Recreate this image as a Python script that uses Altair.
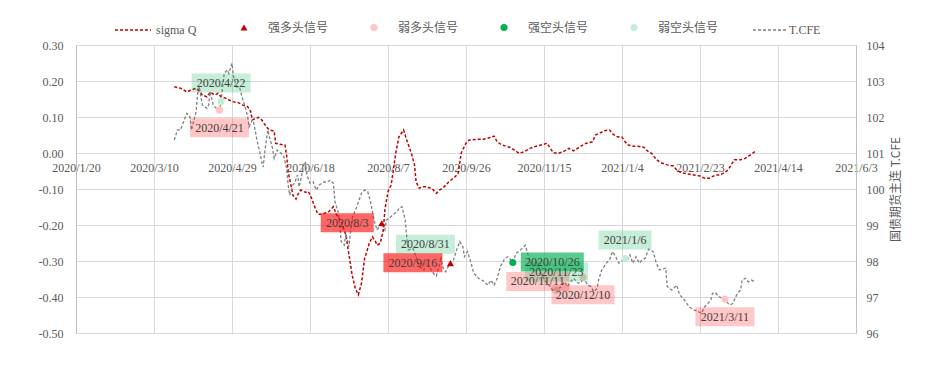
import altair as alt
import pandas as pd

# ---------------- data ----------------
sigma_dates = ["2020-03-23","2020-03-27","2020-03-31","2020-04-03","2020-04-06","2020-04-08","2020-04-10","2020-04-13","2020-04-15","2020-04-18",
               "2020-04-20","2020-04-22","2020-04-25","2020-04-29","2020-05-03","2020-05-06","2020-05-09","2020-05-11","2020-05-12","2020-05-14",
               "2020-05-16","2020-05-18","2020-05-21","2020-05-23","2020-05-26","2020-05-27","2020-05-30","2020-06-02","2020-06-03","2020-06-04",
               "2020-06-06","2020-06-07","2020-06-09","2020-06-10","2020-06-12","2020-06-15","2020-06-17","2020-06-19","2020-06-21","2020-06-23",
               "2020-06-26","2020-06-30","2020-07-03","2020-07-05","2020-07-08","2020-07-11","2020-07-13","2020-07-15","2020-07-17","2020-07-19",
               "2020-07-21","2020-07-23","2020-07-26","2020-07-28","2020-07-30","2020-07-31","2020-08-02","2020-08-04","2020-08-05","2020-08-07",
               "2020-08-09","2020-08-10","2020-08-12","2020-08-14","2020-08-17","2020-08-19","2020-08-22","2020-08-24","2020-08-25","2020-08-27",
               "2020-08-29","2020-08-31","2020-09-04","2020-09-07","2020-09-09","2020-09-12","2020-09-15","2020-09-19","2020-09-21","2020-09-23",
               "2020-09-26","2020-09-28","2020-10-03","2020-10-07","2020-10-10","2020-10-14","2020-10-16","2020-10-19","2020-10-24","2020-10-27",
               "2020-10-30","2020-11-02","2020-11-06","2020-11-10","2020-11-13","2020-11-17","2020-11-19","2020-11-21","2020-11-24","2020-11-27",
               "2020-12-01","2020-12-04","2020-12-08","2020-12-12","2020-12-16","2020-12-18","2020-12-21","2020-12-24","2020-12-27","2020-12-29",
               "2021-01-01","2021-01-04","2021-01-06","2021-01-08","2021-01-11","2021-01-14","2021-01-18","2021-01-21","2021-01-23","2021-01-26",
               "2021-01-29","2021-02-02","2021-02-06","2021-02-08","2021-02-11","2021-02-15","2021-02-19","2021-02-23","2021-02-26","2021-03-01",
               "2021-03-05","2021-03-08","2021-03-10","2021-03-13","2021-03-15","2021-03-17","2021-03-21","2021-03-24","2021-03-27","2021-03-31"]
sigma_vals = [0.184,0.180,0.170,0.175,0.180,0.172,0.161,0.156,0.169,0.161,
              0.166,0.156,0.152,0.143,0.140,0.133,0.129,0.115,0.092,0.096,
              0.099,0.092,0.073,0.064,0.061,0.027,0.024,0.022,-0.006,-0.052,
              -0.094,-0.117,-0.128,-0.117,-0.103,-0.109,-0.107,-0.126,-0.149,-0.170,
              -0.170,-0.163,-0.149,-0.172,-0.191,-0.228,-0.283,-0.339,-0.376,-0.394,
              -0.362,-0.293,-0.251,-0.233,-0.246,-0.256,-0.251,-0.214,-0.158,-0.107,
              -0.089,-0.061,0.001,0.045,0.064,0.036,-0.001,-0.033,-0.080,-0.098,
              -0.094,-0.094,-0.098,-0.112,-0.103,-0.094,-0.080,-0.066,-0.056,0.001,
              0.027,0.036,0.038,0.038,0.041,0.047,0.031,0.022,0.016,0.008,
              -0.001,0.003,0.013,0.019,0.022,0.027,0.013,0.001,-0.001,0.003,
              0.013,0.006,0.017,0.027,0.031,0.050,0.056,0.062,0.064,0.053,
              0.045,0.044,0.031,0.022,0.019,0.019,0.016,0.003,-0.001,-0.018,
              -0.027,-0.033,-0.036,-0.047,-0.055,-0.058,-0.061,-0.064,-0.070,-0.070,
              -0.061,-0.061,-0.056,-0.047,-0.033,-0.019,-0.019,-0.015,-0.006,0.006]

tcfe_dates = ["2020-03-23","2020-03-25","2020-03-27","2020-03-31","2020-04-02","2020-04-03","2020-04-06","2020-04-07","2020-04-08","2020-04-10",
              "2020-04-13","2020-04-14","2020-04-15","2020-04-17","2020-04-20","2020-04-21","2020-04-22","2020-04-23","2020-04-24","2020-04-26",
              "2020-04-27","2020-04-28","2020-04-29","2020-04-30","2020-05-02","2020-05-04","2020-05-06","2020-05-08","2020-05-09","2020-05-10",
              "2020-05-12","2020-05-13","2020-05-15","2020-05-17","2020-05-18","2020-05-19","2020-05-20","2020-05-22","2020-05-23","2020-05-25",
              "2020-05-26","2020-05-28","2020-05-29","2020-06-01","2020-06-02","2020-06-03","2020-06-04","2020-06-05","2020-06-07","2020-06-08",
              "2020-06-10","2020-06-11","2020-06-12","2020-06-14","2020-06-15","2020-06-16","2020-06-18","2020-06-20","2020-06-22","2020-06-24",
              "2020-06-27","2020-06-29","2020-07-01","2020-07-03","2020-07-04","2020-07-06","2020-07-07","2020-07-08","2020-07-10","2020-07-11",
              "2020-07-13","2020-07-14","2020-07-15","2020-07-18","2020-07-21","2020-07-23","2020-07-25","2020-07-27","2020-07-29","2020-07-31",
              "2020-08-02","2020-08-03","2020-08-05","2020-08-06","2020-08-08","2020-08-10","2020-08-13","2020-08-14","2020-08-16","2020-08-18",
              "2020-08-19","2020-08-20","2020-08-23","2020-08-25","2020-08-27","2020-08-30","2020-08-31","2020-09-03","2020-09-05","2020-09-07",
              "2020-09-08","2020-09-09","2020-09-10","2020-09-11","2020-09-13","2020-09-14","2020-09-16","2020-09-18","2020-09-20","2020-09-22",
              "2020-09-24","2020-09-25","2020-09-27","2020-09-29","2020-10-01","2020-10-04","2020-10-07","2020-10-10","2020-10-12","2020-10-14",
              "2020-10-16","2020-10-18","2020-10-21","2020-10-23","2020-10-26","2020-10-28","2020-10-31","2020-11-03","2020-11-07","2020-11-11",
              "2020-11-13","2020-11-16","2020-11-19","2020-11-21","2020-11-23","2020-11-26","2020-11-28","2020-11-30","2020-12-02","2020-12-04",
              "2020-12-07","2020-12-09","2020-12-10","2020-12-13","2020-12-15","2020-12-17","2020-12-19","2020-12-20","2020-12-22","2020-12-25",
              "2020-12-27","2020-12-29","2020-12-31","2021-01-02","2021-01-06","2021-01-07","2021-01-09","2021-01-11","2021-01-13","2021-01-15",
              "2021-01-17","2021-01-19","2021-01-21","2021-01-24","2021-01-26","2021-01-28","2021-02-01","2021-02-02","2021-02-05","2021-02-08",
              "2021-02-10","2021-02-13","2021-02-16","2021-02-19","2021-02-22","2021-02-24","2021-02-26","2021-02-28","2021-03-02","2021-03-03",
              "2021-03-05","2021-03-07","2021-03-11","2021-03-12","2021-03-14","2021-03-16","2021-03-18","2021-03-19","2021-03-21","2021-03-22",
              "2021-03-24","2021-03-26","2021-03-28","2021-03-30"]
tcfe_vals = [101.36,101.64,101.64,102.10,102.01,101.64,102.15,102.66,102.84,102.33,
             102.24,102.33,102.70,102.33,102.19,102.19,102.43,102.84,103.21,103.31,
             103.21,103.35,103.49,103.12,102.84,102.80,102.47,102.19,102.01,101.73,
             101.92,101.83,101.36,100.99,100.76,100.61,101.04,101.64,101.45,101.13,
             100.85,101.08,101.04,100.94,100.76,100.58,100.11,99.83,100.11,100.16,
             100.39,100.06,100.25,100.67,100.76,100.39,100.16,100.20,99.97,100.11,
             100.20,100.19,100.25,100.16,99.65,99.37,99.00,98.54,98.44,98.77,
             98.40,98.81,99.19,99.51,99.88,99.97,99.93,99.60,99.14,98.86,
             99.00,99.05,98.86,99.14,99.19,99.28,99.37,99.46,99.51,99.14,
             98.68,98.31,98.35,98.12,97.84,97.75,97.95,97.80,97.66,97.58,
             97.75,97.89,98.12,97.84,97.70,97.80,97.94,98.03,98.31,98.54,
             98.40,98.12,98.26,97.98,97.66,97.52,97.45,97.33,97.47,97.33,
             97.52,97.84,98.08,98.12,97.96,98.21,98.31,98.44,97.84,97.92,
             97.66,97.43,97.29,97.15,97.18,97.29,97.42,97.29,97.42,97.52,
             97.38,97.42,97.55,97.33,97.29,97.15,97.24,97.47,97.75,97.94,
             98.03,98.26,98.12,97.94,98.07,97.98,98.17,97.94,98.12,97.94,
             98.03,98.08,98.33,98.26,97.94,97.75,97.80,97.29,97.19,97.33,
             97.06,96.92,96.73,96.64,96.59,96.55,96.73,96.82,96.92,97.10,
             97.12,97.01,96.94,96.87,96.78,96.82,97.01,97.10,97.19,97.47,
             97.52,97.42,97.47,97.42]

sig_dates = ["2020-04-21","2020-04-22","2020-08-03","2020-08-31","2020-09-16","2020-10-26",
             "2020-11-11","2020-11-23","2020-12-10","2021-01-06","2021-03-11"]
sig_vals = [102.19,102.43,99.05,97.95,97.94,97.96,97.92,97.18,97.55,98.07,96.94]
sig_types = ["弱多头信号","弱空头信号","强多头信号","弱空头信号","强多头信号","强空头信号",
             "弱多头信号","弱空头信号","弱多头信号","弱空头信号","弱多头信号"]
sig_labels = ["2020/4/21","2020/4/22","2020/8/3","2020/8/31","2020/9/16","2020/10/26",
              "2020/11/11","2020/11/23","2020/12/10","2021/1/6","2021/3/11"]

x_ticks = ["2020-01-20","2020-03-10","2020-04-29","2020-06-18","2020-08-07","2020-09-26",
           "2020-11-15","2021-01-04","2021-02-23","2021-04-14","2021-06-03"]
left_ticks = [-0.5,-0.4,-0.3,-0.2,-0.1,0.0,0.1,0.2,0.3]
right_ticks = [96,97,98,99,100,101,102,103,104]

type_order = ["强多头信号","弱多头信号","强空头信号","弱空头信号"]
type_colors = ["#c00000","#ffc4c4","#00b050","#c4ecd6"]
type_shapes = ["triangle-up","circle","circle","circle"]

# ---------------- styles ----------------
GRID = "#d9d9d9"
AXC = "#bfbfbf"
LC = "#595959"
SERIF = "Liberation Serif"
CJK = "Noto Sans CJK SC"


def dt(s):
    y, m, d = map(int, s.split("-"))
    return alt.DateTime(year=y, month=m, date=d, utc=True)


xscale = alt.Scale(type="utc", domain=[dt("2020-01-20"), dt("2021-06-03")])
rscale = alt.Scale(domain=[96, 104], nice=False, zero=False)
lscale = alt.Scale(domain=[-0.5, 0.3], nice=False, zero=False)
tickvals = [dt(s) for s in x_ticks]

sigma_df = pd.DataFrame({"date": sigma_dates, "v": sigma_vals, "name": "sigma Q"})
tcfe_df = pd.DataFrame({"date": tcfe_dates, "v": tcfe_vals, "name": "T.CFE"})
sig_df = pd.DataFrame({"date": sig_dates, "v": sig_vals, "type": sig_types, "label": sig_labels})

sigma = alt.Chart(sigma_df).mark_line(strokeDash=[3, 2], strokeWidth=1.5).encode(
    x=alt.X("date:T", scale=xscale,
            axis=alt.Axis(orient="bottom", values=tickvals, grid=True, gridColor=GRID, labels=False,
                          ticks=False, domain=False, title=None)),
    y=alt.Y("v:Q", scale=lscale,
            axis=alt.Axis(orient="left", values=left_ticks, grid=True, gridColor=GRID, ticks=False,
                          domainColor=AXC, labelPadding=13, title=None,
                          labelExpr="replace(format(datum.value, '.2f'), '\u2212', '-')",
                          labelFont=SERIF, labelFontSize=12, labelColor=LC)),
    color=alt.Color("name:N", scale=alt.Scale(domain=["sigma Q"], range=["#c00000"]),
                    legend=alt.Legend(orient="none", legendX=38, legendY=-34, title=None,
                                      symbolType="stroke", symbolSize=1296, symbolDash=[3, 2],
                                      symbolStrokeWidth=1.5, labelOffset=4, padding=0,
                                      labelFont=SERIF, labelFontSize=12, labelColor=LC)),
)

tcfe = alt.Chart(tcfe_df).mark_line(strokeDash=[3, 2], strokeWidth=1.3).encode(
    x=alt.X("date:T", scale=xscale,
            axis=alt.Axis(orient="bottom", values=tickvals,
                          labelExpr="utcFormat(datum.value, '%Y/%-m/%-d')", grid=False,
                          ticks=False, domain=False, offset=-180, labelPadding=9,
                          labelFlush=False, labelOverlap=False, title=None,
                          labelFont=SERIF, labelFontSize=12, labelColor=LC)),
    y=alt.Y("v:Q", scale=rscale,
            axis=alt.Axis(orient="right", values=right_ticks, grid=False, ticks=False,
                          domainColor=AXC, labelPadding=10,
                          title="国债期货主连  T.CFE", titleFont=CJK, titleFontSize=12,
                          titleFontWeight="normal", titleColor=LC,
                          titleAngle=270, titleX=39, titleY=144,
                          titleAlign="center", titleBaseline="middle",
                          labelFont=SERIF, labelFontSize=12, labelColor=LC)),
    color=alt.Color("name:N", scale=alt.Scale(domain=["T.CFE"], range=["#7f7f7f"]),
                    legend=alt.Legend(orient="none", legendX=676, legendY=-32.5, title=None,
                                      symbolType="stroke", symbolSize=1089, symbolDash=[3, 2],
                                      symbolStrokeWidth=1.3, labelOffset=2, padding=0,
                                      labelFont=SERIF, labelFontSize=12, labelColor=LC)),
)

sig_legend = alt.Legend(orient="none", legendX=162, legendY=-23.5, title=None,
                        direction="horizontal", columns=4, columnPadding=39,
                        symbolSize=50, labelOffset=18, padding=0,
                        labelFont=CJK, labelFontSize=12, labelColor=LC)

dots = alt.Chart(sig_df).mark_point(filled=True, opacity=1, size=50).encode(
    x=alt.X("date:T", scale=xscale, axis=None),
    y=alt.Y("v:Q", scale=rscale, axis=None),
    color=alt.Color("type:N", scale=alt.Scale(domain=type_order, range=type_colors), legend=sig_legend),
    shape=alt.Shape("type:N", scale=alt.Scale(domain=type_order, range=type_shapes), legend=sig_legend),
)

box_style = {
    "强多头信号": ("left", "#ff0000", 0.6),
    "弱多头信号": ("below", "#ff0000", 0.22),
    "强空头信号": ("right", "#00b050", 0.65),
    "弱空头信号": ("above", "#00b050", 0.22),
}
widths = {8: 53, 9: 59, 10: 63}

boxes, texts = [], []
for t, (pos, col, op) in box_style.items():
    for n, w in widths.items():
        sub = sig_df[(sig_df["type"] == t) & (sig_df["label"].str.len() == n)]
        if sub.empty:
            continue
        if pos == "below":
            xo, x2o, yo, y2o, dx, dy = -w / 2, w / 2, 8, 27, 0, 17.5
        elif pos == "above":
            xo, x2o, yo, y2o, dx, dy = -w / 2, w / 2, -28, -9, 0, -18.5
        elif pos == "left":
            xo, x2o, yo, y2o, dx, dy = -8 - w, -8, -10, 9, -8 - w / 2, -0.5
        else:
            xo, x2o, yo, y2o, dx, dy = 8, 8 + w, -10, 9, 8 + w / 2, -0.5
        base = alt.Chart(sub)
        boxes.append(base.mark_rect(color=col, opacity=op, xOffset=xo, x2Offset=x2o,
                                    yOffset=yo, y2Offset=y2o).encode(
            x=alt.X("date:T", scale=xscale, axis=None), x2="date:T",
            y=alt.Y("v:Q", scale=rscale, axis=None), y2="v:Q"))
        texts.append(base.mark_text(dx=dx, dy=dy, align="center", baseline="middle",
                                    font=SERIF, fontSize=12, color="#404040").encode(
            x=alt.X("date:T", scale=xscale, axis=None),
            y=alt.Y("v:Q", scale=rscale, axis=None),
            text="label:N"))

chart = alt.layer(sigma, tcfe, dots, *boxes, *texts).resolve_scale(
    y="independent", color="independent", shape="independent"
).resolve_axis(x="independent", y="independent").properties(
    width=780, height=288,
    autosize=alt.AutoSizeParams(type="none"),
    padding={"left": 76, "top": 45, "right": 73, "bottom": 46},
).configure_view(stroke=None).configure(background="white")

chart.save("out.html", embed_options={"renderer": "svg", "actions": False})
